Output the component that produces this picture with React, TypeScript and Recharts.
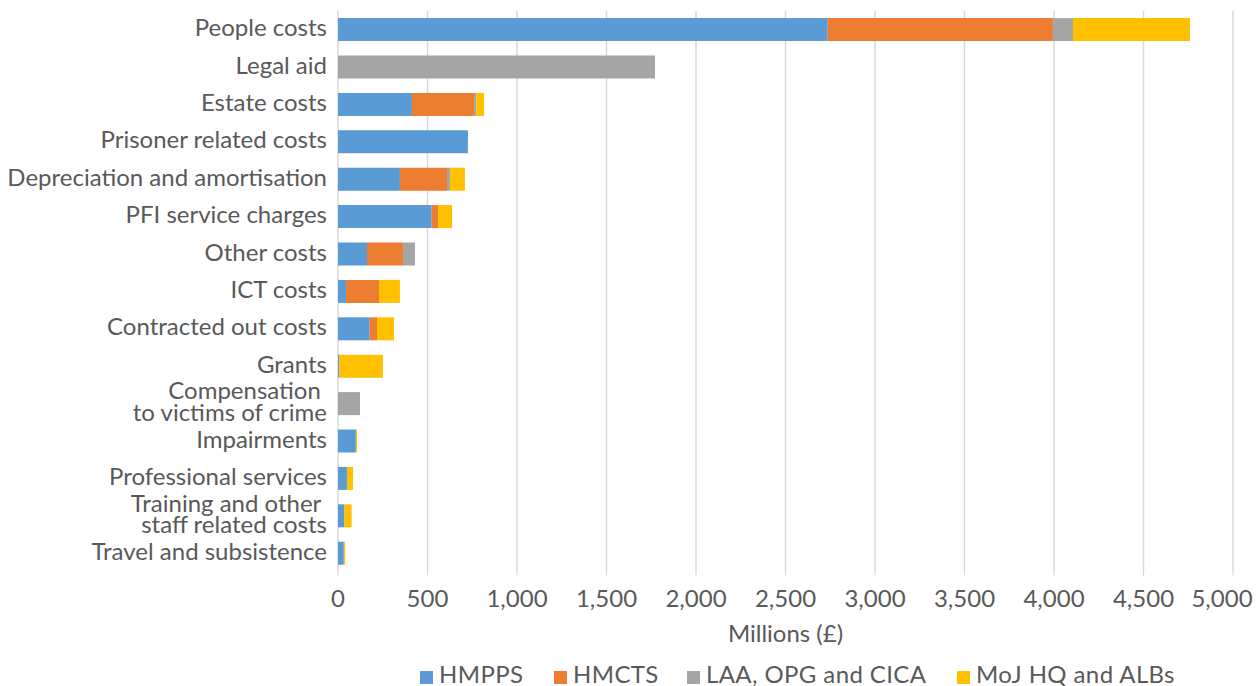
import { BarChart, Bar, XAxis, YAxis, CartesianGrid, Legend } from 'recharts';

const categories = [
  'People costs',
  'Legal aid',
  'Estate costs',
  'Prisoner related costs',
  'Depreciation and amortisation',
  'PFI service charges',
  'Other costs',
  'ICT costs',
  'Contracted out costs',
  'Grants',
  'Compensation \nto victims of crime',
  'Impairments',
  'Professional services',
  'Training and other \nstaff related costs',
  'Travel and subsistence',
];

const hmpps = [2736, 0, 413, 726, 346, 523, 162, 45, 177, 7, 0, 100, 50, 34, 32];
const hmcts = [1258, 0, 347, 0, 263, 36, 201, 184, 41, 0, 0, 0, 0, 3, 2];
const laa = [112, 1771, 12, 0, 17, 0, 67, 0, 0, 0, 123, 0, 0, 0, 0];
const moj = [654, 0, 44, 0, 83, 78, 0, 117, 95, 244, 0, 6, 34, 39, 6];

const xTicks = [0, 500, 1000, 1500, 2000, 2500, 3000, 3500, 4000, 4500, 5000];

const seriesNames = ['HMPPS', 'HMCTS', 'LAA, OPG and CICA', 'MoJ HQ and ALBs'];
const colors = ['#5B9BD5', '#ED7D31', '#A5A5A5', '#FFC000'];
// left edge of each legend swatch
const legendX = [420, 554, 687, 957];

const data = categories.map((name, i) => ({
  name,
  hmpps: hmpps[i],
  hmcts: hmcts[i],
  laa: laa[i],
  moj: moj[i],
}));

const FONT = 'Lato, sans-serif';
const TEXT = '#595959';
const FS = 24;

function CategoryTick({ y, payload }: any) {
  const lines = String(payload.value).split('\n');
  const lh = 21.5;
  const start = -((lines.length - 1) * lh) / 2;
  return (
    <text x={327} y={y} textAnchor="end" fill={TEXT} fontSize={FS} fontFamily={FONT}>
      {lines.map((l, i) => (
        <tspan key={i} x={327} dy={i === 0 ? start + 6.5 : lh} style={{ whiteSpace: 'pre' }}>
          {l}
        </tspan>
      ))}
    </text>
  );
}

function ValueTick({ x, y, payload }: any) {
  const shift = payload.value === 5000 ? -11 : 0;
  return (
    <text x={x + shift} y={y} dy={22.5} textAnchor="middle" fill={TEXT} fontSize={FS} fontFamily={FONT}>
      {payload.value.toLocaleString('en-US')}
    </text>
  );
}

function LegendBox() {
  return (
    <div style={{ position: 'relative', height: 30, fontFamily: FONT, fontSize: FS, color: TEXT }}>
      {seriesNames.map((n, i) => (
        <div
          key={n}
          style={{ position: 'absolute', left: legendX[i], top: 2, height: 30, display: 'flex', alignItems: 'center', whiteSpace: 'nowrap', letterSpacing: 0.4 }}
        >
          <span style={{ width: 13, height: 13, background: colors[i], display: 'inline-block', marginRight: 6, position: 'relative', top: 4 }} />
          <span>{n}</span>
        </div>
      ))}
    </div>
  );
}

export default function App() {
  return (
    <div style={{ position: 'absolute', left: 0, top: 0, background: '#fff' }}>
      <BarChart
        width={1258}
        height={686}
        data={data}
        layout="vertical"
        barCategoryGap="19%"
        margin={{ top: 11, right: 25, left: 0, bottom: 0 }}
      >
        <CartesianGrid horizontal={false} stroke="#D9D9D9" strokeWidth={1.5} />
        <XAxis
          type="number"
          domain={[0, 5000]}
          ticks={xTicks}
          axisLine={false}
          tickLine={{ stroke: '#D9D9D9' }}
          tickSize={4}
          tickMargin={8}
          tick={<ValueTick />}
          height={84}
          label={{ value: 'Millions (£)', position: 'insideBottom', offset: 14, fill: TEXT, fontSize: FS, fontFamily: FONT }}
        />
        <YAxis
          type="category"
          dataKey="name"
          width={338}
          axisLine={false}
          tickLine={false}
          interval={0}
          tick={<CategoryTick />}
        />
        <Legend verticalAlign="bottom" content={<LegendBox />} wrapperStyle={{ left: 0, bottom: 0, width: 1258 }} />
        <Bar dataKey="hmpps" name="HMPPS" stackId="a" fill={colors[0]} isAnimationActive={false} />
        <Bar dataKey="hmcts" name="HMCTS" stackId="a" fill={colors[1]} isAnimationActive={false} />
        <Bar dataKey="laa" name="LAA, OPG and CICA" stackId="a" fill={colors[2]} isAnimationActive={false} />
        <Bar dataKey="moj" name="MoJ HQ and ALBs" stackId="a" fill={colors[3]} isAnimationActive={false} />
      </BarChart>
    </div>
  );
}
